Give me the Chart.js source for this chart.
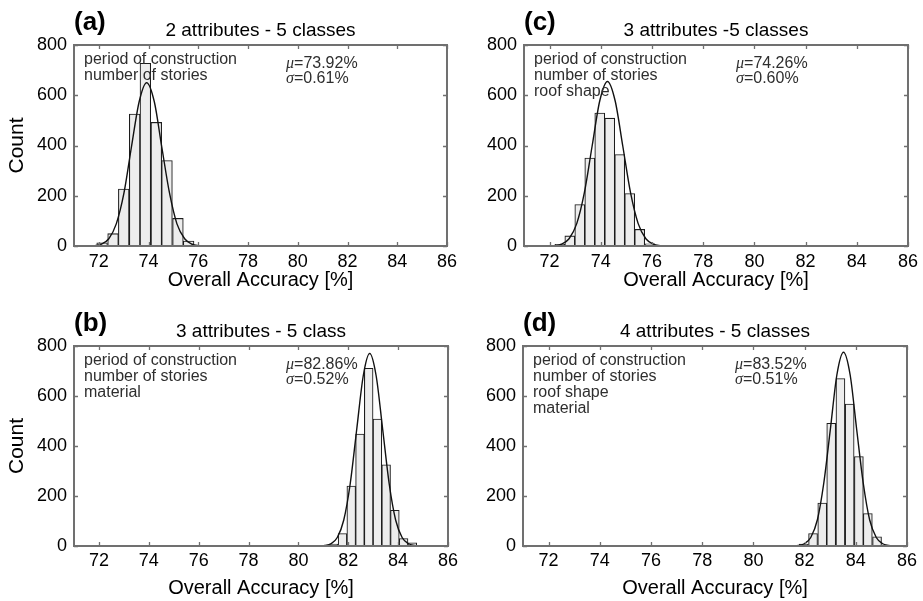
<!DOCTYPE html>
<html>
<head>
<meta charset="utf-8">
<script src="https://cdn.jsdelivr.net/npm/chart.js@4.4.0/dist/chart.umd.min.js"></script>
<style>
    html, body { margin: 0; padding: 0; background: #fff; }
    #wrap { position: relative; width: 923px; height: 601px; overflow: hidden; }
    canvas { position: absolute; }
</style>
</head>
<body>
<div id="wrap">
    <canvas id="chart-a" width="462" height="300" style="left:0;top:0"></canvas>
    <canvas id="chart-c" width="461" height="300" style="left:462px;top:0"></canvas>
    <canvas id="chart-b" width="462" height="301" style="left:0;top:300px"></canvas>
    <canvas id="chart-d" width="461" height="301" style="left:462px;top:300px"></canvas>
</div>
<script>
/* ---------------------------------------------------------------- */
/* DATA                                                             */
/* ---------------------------------------------------------------- */
const xTicks = [72, 74, 76, 78, 80, 82, 84, 86];
const yTicks = [0, 200, 400, 600, 800];

// (a) 2 attributes - 5 classes
const binsA   = [72.13, 72.57, 73.00, 73.44, 73.87, 74.31, 74.74, 75.18, 75.61, 76.05];
const countsA = [13, 49, 227, 525, 727, 492, 340, 110, 20, 3];
const curveXA = [71.79, 72.09, 72.40, 72.70, 73.01, 73.31, 73.62, 73.92, 74.23, 74.53, 74.84, 75.14, 75.45, 75.75, 76.06];
const curveYA = [1, 7, 29, 88, 211, 394, 574, 650, 574, 394, 211, 88, 29, 7, 1];

// (c) 3 attributes -5 classes
const binsC   = [72.40, 72.79, 73.18, 73.57, 73.96, 74.35, 74.74, 75.13, 75.52, 75.91];
const countsC = [7, 40, 165, 350, 529, 509, 364, 209, 66, 9];
const curveXC = [72.16, 72.46, 72.76, 73.06, 73.36, 73.66, 73.96, 74.26, 74.56, 74.86, 75.16, 75.46, 75.76, 76.06, 76.36];
const curveYC = [1, 7, 29, 89, 213, 397, 578, 655, 578, 397, 213, 89, 29, 7, 1];

// (b) 3 attributes - 5 class
const binsB   = [81.42, 81.77, 82.12, 82.47, 82.82, 83.17, 83.52, 83.87, 84.22, 84.57];
const countsB = [8, 50, 240, 448, 711, 508, 325, 143, 30, 13];
const curveXB = [81.04, 81.30, 81.56, 81.82, 82.08, 82.34, 82.60, 82.86, 83.12, 83.38, 83.64, 83.90, 84.16, 84.42, 84.68];
const curveYB = [2, 9, 34, 104, 250, 467, 680, 770, 680, 467, 250, 104, 34, 9, 2];

// (d) 4 attributes - 5 classes
const binsD   = [81.97, 82.33, 82.69, 83.04, 83.40, 83.76, 84.12, 84.47, 84.83];
const countsD = [8, 50, 172, 491, 670, 568, 358, 130, 37];
const curveXD = [81.73, 81.99, 82.24, 82.50, 82.75, 83.01, 83.26, 83.52, 83.78, 84.03, 84.29, 84.54, 84.80, 85.05, 85.31];
const curveYD = [2, 9, 34, 105, 252, 470, 684, 775, 684, 470, 252, 105, 34, 9, 2];

const FONT = '"Liberation Sans", Arial, Helvetica, sans-serif';

/* ---------------------------------------------------------------- */
/* PLUGIN: matlab-like box, inward ticks, labels & annotations      */
/* ---------------------------------------------------------------- */
const panelDecor = {
    id: 'panelDecor',
    afterDraw(chart, args, o) {
        const ctx = chart.ctx;
        const a = chart.chartArea;
        const x = chart.scales.x;
        const y = chart.scales.y;

        ctx.save();
        ctx.strokeStyle = '#707070';
        ctx.lineWidth = 2;
        ctx.strokeRect(a.left, a.top, a.right - a.left, a.bottom - a.top);

        ctx.lineWidth = 1.3;
        ctx.beginPath();
        xTicks.forEach(v => {
            const px = Math.round(x.getPixelForValue(v)) + 0.5;
            ctx.moveTo(px, a.bottom); ctx.lineTo(px, a.bottom - 4);
            ctx.moveTo(px, a.top);    ctx.lineTo(px, a.top + 4);
        });
        yTicks.forEach(v => {
            const py = Math.round(y.getPixelForValue(v)) + 0.5;
            ctx.moveTo(a.left, py);  ctx.lineTo(a.left + 4, py);
            ctx.moveTo(a.right, py); ctx.lineTo(a.right - 4, py);
        });
        ctx.stroke();

        ctx.textBaseline = 'middle';
        ctx.fillStyle = '#000';
        ctx.textAlign = 'left';
        ctx.font = 'bold 26px ' + FONT;
        ctx.fillText(o.label, a.left, a.top - 22);

        ctx.textAlign = 'center';
        ctx.font = '19px ' + FONT;
        ctx.fillText(o.title, (a.left + a.right) / 2, a.top - 14);

        ctx.fillStyle = '#2e2e2e';
        ctx.textAlign = 'left';
        ctx.font = '16px ' + FONT;
        o.notes.forEach((t, i) => ctx.fillText(t, a.left + 10, a.top + 15 + 16 * i));

        const stat = (sym, txt, sx, sy) => {
            ctx.font = 'italic 16px "Liberation Serif", serif';
            ctx.fillText(sym, sx, sy);
            const w = ctx.measureText(sym).width;
            ctx.font = '16px ' + FONT;
            ctx.fillText(txt, sx + w, sy);
        };
        stat('\u03bc', o.mu, a.left + 212, a.top + 19);
        stat('\u03c3', o.sigma, a.left + 212, a.top + 34);
        ctx.restore();
    }
};

function makePanel(canvasId, p) {
    const ctx = document.getElementById(canvasId).getContext('2d');
    return new Chart(ctx, {
        type: 'bar',
        data: {
            datasets: [
                {
                    type: 'line',
                    data: p.curveX.map((v, i) => ({ x: v, y: p.curveY[i] })),
                    borderColor: '#111',
                    borderWidth: 1.4,
                    pointRadius: 0,
                    cubicInterpolationMode: 'monotone',
                    fill: false,
                    order: 0
                },
                {
                    type: 'bar',
                    data: p.bins.map((v, i) => ({ x: v, y: p.counts[i] })),
                    backgroundColor: '#ededed',
                    borderColor: '#1c1c1c',
                    borderWidth: 1.1,
                    borderSkipped: false,
                    barPercentage: 1,
                    categoryPercentage: 1,
                    order: 1
                }
            ]
        },
        options: {
            responsive: false,
            animation: false,
            layout: { padding: { top: p.padTop, right: p.padRight, left: 0, bottom: 0 } },
            plugins: {
                legend: { display: false },
                tooltip: { enabled: false },
                panelDecor: p.decor
            },
            scales: {
                x: {
                    type: 'linear',
                    min: 71,
                    max: 86,
                    offset: false,
                    grid: { display: false, drawTicks: false },
                    border: { display: false },
                    afterBuildTicks: s => { s.ticks = xTicks.map(v => ({ value: v })); },
                    afterFit: s => { s.height = p.xAxisHeight; },
                    ticks: { autoSkip: false, maxRotation: 0, padding: p.xTickPad, color: '#000', font: { family: FONT, size: 18 } },
                    title: {
                        display: true,
                        text: 'Overall Accuracy [%]',
                        color: '#000',
                        font: { family: FONT, size: 20 },
                        padding: { top: 0, bottom: p.xTitlePad }
                    }
                },
                y: {
                    type: 'linear',
                    min: 0,
                    max: 800,
                    grid: { display: false, drawTicks: false },
                    border: { display: false },
                    afterBuildTicks: s => { s.ticks = yTicks.map(v => ({ value: v })); },
                    afterFit: s => { s.width = p.yWidth; },
                    ticks: { autoSkip: false, padding: 7, color: '#000', font: { family: FONT, size: 18 } },
                    title: {
                        display: p.showCount,
                        text: 'Count',
                        color: '#000',
                        font: { family: FONT, size: 21 },
                        padding: { top: 5, bottom: 0 }
                    }
                }
            }
        },
        plugins: [panelDecor]
    });
}

makePanel('chart-a', {
    bins: binsA, counts: countsA, curveX: curveXA, curveY: curveYA,
    padTop: 45, padRight: 4, yWidth: 74, xAxisHeight: 54, xTickPad: 5, xTitlePad: 8, showCount: true,
    decor: { label: '(a)', title: '2 attributes - 5 classes',
             notes: ['period of construction', 'number of stories'], mu: '=73.92%', sigma: '=0.61%' }
});
makePanel('chart-c', {
    bins: binsC, counts: countsC, curveX: curveXC, curveY: curveYC,
    padTop: 45, padRight: 15, yWidth: 62, xAxisHeight: 54, xTickPad: 5, xTitlePad: 8, showCount: false,
    decor: { label: '(c)', title: '3 attributes -5 classes',
             notes: ['period of construction', 'number of stories', 'roof shape'], mu: '=74.26%', sigma: '=0.60%' }
});
makePanel('chart-b', {
    bins: binsB, counts: countsB, curveX: curveXB, curveY: curveYB,
    padTop: 46, padRight: 4, yWidth: 74, xAxisHeight: 55, xTickPad: 4, xTitlePad: 1, showCount: true,
    decor: { label: '(b)', title: '3 attributes - 5 class',
             notes: ['period of construction', 'number of stories', 'material'], mu: '=82.86%', sigma: '=0.52%' }
});
makePanel('chart-d', {
    bins: binsD, counts: countsD, curveX: curveXD, curveY: curveYD,
    padTop: 46, padRight: 16, yWidth: 61, xAxisHeight: 55, xTickPad: 4, xTitlePad: 1, showCount: false,
    decor: { label: '(d)', title: '4 attributes - 5 classes',
             notes: ['period of construction', 'number of stories', 'roof shape', 'material'], mu: '=83.52%', sigma: '=0.51%' }
});
</script>
</body>
</html>
